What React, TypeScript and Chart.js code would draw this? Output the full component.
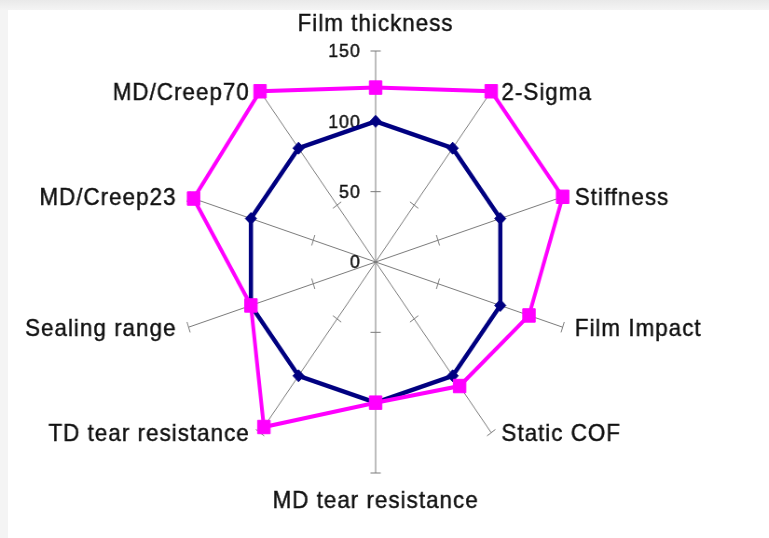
import React, { useEffect, useRef } from 'react';
import { Chart, registerables } from 'chart.js';

Chart.register(...registerables);

const categories = [
  'Film thickness',
  '2-Sigma',
  'Stiffness',
  'Film Impact',
  'Static COF',
  'MD tear resistance',
  'TD tear resistance',
  'Sealing range',
  'MD/Creep23',
  'MD/Creep70',
];
const seriesNavy = [100, 100, 100, 100, 100, 100, 100, 100, 100, 100];
const seriesMagenta = [124, 150, 150, 123, 109, 100, 145, 100, 146, 150];
const tickValues = [0, 50, 100, 150];
const scaleMin = 0;
const scaleMax = 150;

const CANVAS_W = 825;
const CANVAS_H = 538;
const SQUEEZE_X = 0.932;
const AXIS_GRAY = '#7a7a7a';
const LABEL_FONT = '24px "Liberation Sans", Arial, sans-serif';
const TICK_FONT = '19px "Liberation Sans", Arial, sans-serif';

function heavyText(ctx: CanvasRenderingContext2D, t: string, x: number, y: number) {
  ctx.fillText(t, x, y);
  ctx.strokeText(t, x, y);
}

const radarDecor = {
  id: 'radarDecor',
  beforeDatasetsDraw(chart: any) {
    const s = chart.scales.r;
    const ctx = chart.ctx as CanvasRenderingContext2D;
    const n = categories.length;
    ctx.save();
    // tick marks on each spoke
    ctx.strokeStyle = AXIS_GRAY;
    ctx.lineWidth = 1;
    for (let i = 0; i < n; i++) {
      for (const v of tickValues) {
        if (v === scaleMin) continue;
        const p = s.getPointPositionForValue(i, v);
        const px = -Math.sin(p.angle);
        const py = Math.cos(p.angle);
        ctx.beginPath();
        ctx.moveTo(p.x - px * 5.5, p.y - py * 5.5);
        ctx.lineTo(p.x + px * 5.5, p.y + py * 5.5);
        ctx.stroke();
      }
    }
    ctx.fillStyle = '#111';
    ctx.strokeStyle = '#111';
    ctx.lineWidth = 0.45;
    // tick labels on the first (vertical) spoke
    ctx.font = TICK_FONT;
    (ctx as any).letterSpacing = '1px';
    ctx.textAlign = 'right';
    ctx.textBaseline = 'middle';
    for (const v of tickValues) {
      const p = s.getPointPositionForValue(0, v);
      heavyText(ctx, String(v), p.x - 16, p.y + 1);
    }
    // category labels
    ctx.font = LABEL_FONT;
    (ctx as any).letterSpacing = '1.1px';
    for (let i = 0; i < n; i++) {
      const p = s.getPointPositionForValue(i, scaleMax);
      const c = Math.cos(p.angle);
      const sn = Math.sin(p.angle);
      if (Math.abs(c) < 0.1) {
        ctx.textAlign = 'center';
        ctx.textBaseline = 'middle';
        heavyText(ctx, categories[i], p.x, p.y + (sn > 0 ? 28 : -27));
      } else {
        ctx.textAlign = c > 0 ? 'left' : 'right';
        ctx.textBaseline = 'middle';
        const gap = Math.abs(sn) < 0.5 ? 13 : 11;
        heavyText(ctx, categories[i], p.x + (c > 0 ? gap : -gap), p.y + 2);
      }
    }
    ctx.restore();
  },
};

export default function App() {
  const canvasRef = useRef<HTMLCanvasElement | null>(null);

  useEffect(() => {
    if (!canvasRef.current) return;
    const chart = new Chart(canvasRef.current, {
      type: 'radar',
      data: {
        labels: categories,
        datasets: [
          {
            label: 'Series 1',
            data: seriesNavy,
            borderColor: '#000080',
            backgroundColor: '#000080',
            borderWidth: 4.5,
            fill: false,
            pointStyle: 'rectRot',
            pointRadius: 6,
            pointBorderWidth: 1,
            pointBackgroundColor: '#000080',
            pointBorderColor: '#000080',
            order: 1,
          },
          {
            label: 'Series 2',
            data: seriesMagenta,
            borderColor: '#FF00FF',
            backgroundColor: '#FF00FF',
            borderWidth: 4,
            fill: false,
            pointStyle: 'rect',
            pointRadius: 9.5,
            pointBorderWidth: 1,
            pointBackgroundColor: '#FF00FF',
            pointBorderColor: '#FF00FF',
            order: 0,
          },
        ],
      },
      options: {
        responsive: false,
        animation: false,
        layout: { padding: { top: 51, bottom: 65, left: 100, right: 119 } },
        plugins: {
          legend: { display: false },
          tooltip: { enabled: false },
        },
        elements: { line: { tension: 0 } },
        scales: {
          r: {
            min: scaleMin,
            max: scaleMax,
            ticks: { display: false, stepSize: 50 },
            grid: { display: false },
            angleLines: { display: true, color: AXIS_GRAY, lineWidth: 1 },
            pointLabels: { display: false },
          },
        },
      },
      plugins: [radarDecor],
    } as any);
    return () => chart.destroy();
  }, []);

  return (
    <div
      style={{
        position: 'absolute',
        left: 0,
        top: 0,
        width: 769,
        height: 538,
        overflow: 'hidden',
        background: 'linear-gradient(#e9e9e9, #f4f4f4 10px, #f4f4f4)',
      }}
    >
      <div
        style={{
          position: 'absolute',
          left: 8,
          top: 10,
          right: 0,
          bottom: 0,
          background: '#ffffff',
        }}
      />
      <div
        style={{
          position: 'absolute',
          left: 0,
          top: 0,
          width: CANVAS_W,
          height: CANVAS_H,
          transform: `scaleX(${SQUEEZE_X})`,
          transformOrigin: '0 0',
        }}
      >
        <canvas ref={canvasRef} width={CANVAS_W} height={CANVAS_H} />
      </div>
    </div>
  );
}
